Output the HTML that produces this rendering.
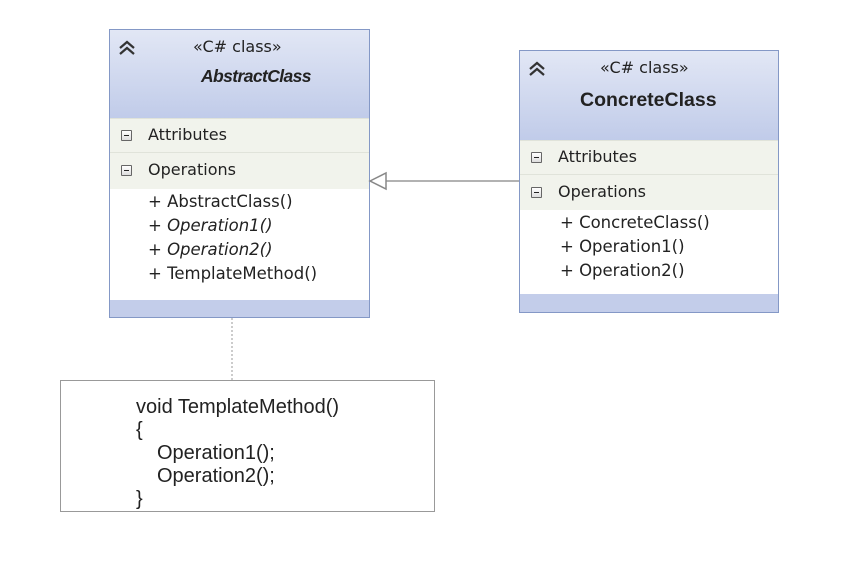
<!DOCTYPE html>
<html><head><meta charset="utf-8"><style>
body{margin:0;width:866px;height:573px;background:#fff;position:relative;overflow:hidden;font-family:"DejaVu Sans","Liberation Sans",sans-serif;}
.box{position:absolute;border:1px solid #8498c6;background:#fff;box-sizing:border-box;}
.hd{position:absolute;left:0;right:0;top:0;background:linear-gradient(#e2e7f5,#c0cbe9);}
.ft{position:absolute;left:0;right:0;bottom:0;background:#c3cdea;}
.sec{position:absolute;left:0;right:0;background:#f1f3ec;border-top:1px solid #e0e3da;font-size:16px;color:#222;}
.sec span{position:absolute;left:38px;}
.mb{position:absolute;left:11px;width:9px;height:9px;border:1px solid #666;background:linear-gradient(#fff,#ddd);border-radius:1px;}
.mb:after{content:"";position:absolute;left:2px;right:2px;top:4px;height:1px;background:#222;}
.t{position:absolute;font-size:16.5px;color:#222;white-space:nowrap;}
.chev{position:absolute;left:8px;top:10px;}
.n{position:absolute;font-size:20px;color:#222;white-space:nowrap;font-family:'Liberation Sans',sans-serif;}
</style></head><body>
<div class="box" style="left:109px;top:29px;width:261px;height:289px;">
 <div class="hd" style="height:89px"></div>
 <svg class="chev" width="18" height="16"><path d="M2 8 L9 2 L16 8 M2 14 L9 8 L16 14" stroke="#333" stroke-width="2.2" fill="none"/></svg>
 <div class="t" style="left:83px;top:7px;font-size:16px;">«C# class»</div>
 <div class="t" style="left:91px;top:36px;font-weight:bold;font-style:italic;font-family:'Liberation Sans',sans-serif;font-size:17.5px;letter-spacing:-0.6px">AbstractClass</div>
 <div class="sec" style="top:88px;height:34px;"><div class="mb" style="top:11px"></div><span style="top:6px;left:38px">Attributes</span></div>
 <div class="sec" style="top:122px;height:36px;"><div class="mb" style="top:12px"></div><span style="top:7px;left:38px">Operations</span></div>
 <div class="t" style="left:38px;top:162px">+ AbstractClass()</div>
 <div class="t" style="left:38px;top:186px;font-style:italic">+ Operation1()</div>
 <div class="t" style="left:38px;top:210px;font-style:italic">+ Operation2()</div>
 <div class="t" style="left:38px;top:234px">+ TemplateMethod()</div>
 <div class="ft" style="height:17px"></div>
</div>
<div class="box" style="left:519px;top:50px;width:260px;height:263px;">
 <div class="hd" style="height:90px"></div>
 <svg class="chev" width="18" height="16"><path d="M2 8 L9 2 L16 8 M2 14 L9 8 L16 14" stroke="#333" stroke-width="2.2" fill="none"/></svg>
 <div class="t" style="left:80px;top:7px;font-size:16px">«C# class»</div>
 <div class="t" style="left:60px;top:38px;font-weight:bold;font-size:19.5px;font-family:'Liberation Sans',sans-serif">ConcreteClass</div>
 <div class="sec" style="top:89px;height:34px;"><div class="mb" style="top:11px"></div><span style="top:6px;left:38px">Attributes</span></div>
 <div class="sec" style="top:123px;height:35px;"><div class="mb" style="top:12px"></div><span style="top:7px;left:38px">Operations</span></div>
 <div class="t" style="left:40px;top:162px">+ ConcreteClass()</div>
 <div class="t" style="left:40px;top:186px">+ Operation1()</div>
 <div class="t" style="left:40px;top:210px">+ Operation2()</div>
 <div class="ft" style="height:18px"></div>
</div>
<svg style="position:absolute;left:0;top:0" width="866" height="573">
 <line x1="386" y1="181" x2="519" y2="181" stroke="#999" stroke-width="1.5"/>
 <polygon points="370,181 386,173 386,189" fill="#fff" stroke="#888" stroke-width="1.5"/>
 <line x1="232" y1="318" x2="232" y2="380" stroke="#999" stroke-width="1" stroke-dasharray="2,2"/>
</svg>
<div class="box" style="left:60px;top:380px;width:375px;height:132px;border-color:#999;">
 <div class="n" style="left:75px;top:15px">void TemplateMethod()</div>
 <div class="n" style="left:75px;top:38px">{</div>
 <div class="n" style="left:96px;top:61px">Operation1();</div>
 <div class="n" style="left:96px;top:84px">Operation2();</div>
 <div class="n" style="left:75px;top:107px">}</div>
</div>
</body></html>
